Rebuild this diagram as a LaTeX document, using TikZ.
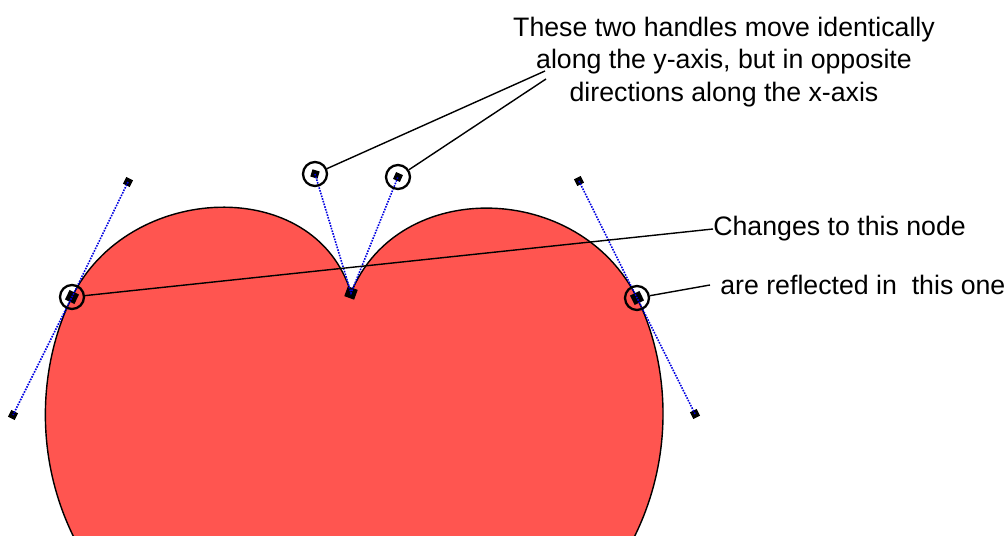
\documentclass[tikz,border=0pt]{standalone}
\usepackage{fontspec}
\setmainfont{Liberation Sans}
\usepackage{tikz}
\usetikzlibrary{positioning}
\usepackage{xcolor}
\definecolor{heartred}{HTML}{FF5550}
\definecolor{handleblue}{HTML}{0000E0}

\begin{document}
\begin{tikzpicture}[x=0.02cm, y=-0.02cm, every node/.style={font=\fontsize{15.2pt}{18.7pt}\selectfont}, knot/.style={rectangle,fill=black,inner sep=0pt,minimum size=0.21cm}, grip/.style={rectangle,fill=black,inner sep=0pt,minimum size=0.15cm}, ring/.style={circle,draw=black,line width=1.3pt,inner sep=0pt,minimum size=0.48cm}, tangent/.style={draw=handleblue,line width=0.9pt,dash pattern=on 0.9pt off 0.7pt}, callout/.style={draw=black,line width=0.8pt}]
\useasboundingbox (0,0) rectangle (1007,536);
% heart outline
\begin{scope}
\clip (0,0) rectangle (1007,536);
\filldraw[fill=heartred,draw=black,line width=0.8pt] (351,293) .. controls (315,174) and (128,182) .. (72,297) .. controls (13,415) and (30,650) .. (354,730) .. controls (678,650) and (695,414) .. (637,298) .. controls (579,181) and (398,177) .. (351,293) -- cycle;
\end{scope}
% handles
\node[knot,rotate=63.7] (lnode) at (72,297) {};
\node[grip,rotate=63.7] (lup) at (128,182) {};
\node[grip,rotate=63.7] (ldown) at (13,415) {};
\node[knot,rotate=70] (cnode) at (351,293) {};
\node[grip,rotate=73] (cleft) at (315,174) {};
\node[grip,rotate=66] (cright) at (398,177) {};
\node[knot,rotate=-63.6] (rnode) at (637,298) {};
\node[grip,rotate=-63.6] (rup) at (579,181) {};
\node[grip,rotate=-63.6] (rdown) at (695,414) {};
\draw[tangent] (lup.center) -- (lnode.center) -- (ldown.center);
\draw[tangent] (cleft.center) -- (cnode.center) -- (cright.center);
\draw[tangent] (rup.center) -- (rnode.center) -- (rdown.center);
% rings
\node[ring] (lring) at (72,297) {};
\node[ring] (rring) at (637,298) {};
\node[ring] (cleftring) at (315,174) {};
\node[ring] (crightring) at (398,177) {};
% labels
\node[align=center] (note) at (724,62) {These two handles move identically\\along the y-axis, but in opposite\\directions along the x-axis};
\node[anchor=west,inner sep=0pt] (change) at (713,229) {Changes to this node};
\node[anchor=west,inner sep=0pt] (mirror) at (720,285) {are reflected in\ \ this one};
\coordinate (tipa) at (545,71);
\coordinate (tipb) at (546,79);
\coordinate (tipc) at (710,285);
\draw[callout] (cleftring) -- (tipa);
\draw[callout] (crightring) -- (tipb);
\draw[callout] (lring) -- (change.west);
\draw[callout] (rring) -- (tipc);
\end{tikzpicture}
\end{document}
